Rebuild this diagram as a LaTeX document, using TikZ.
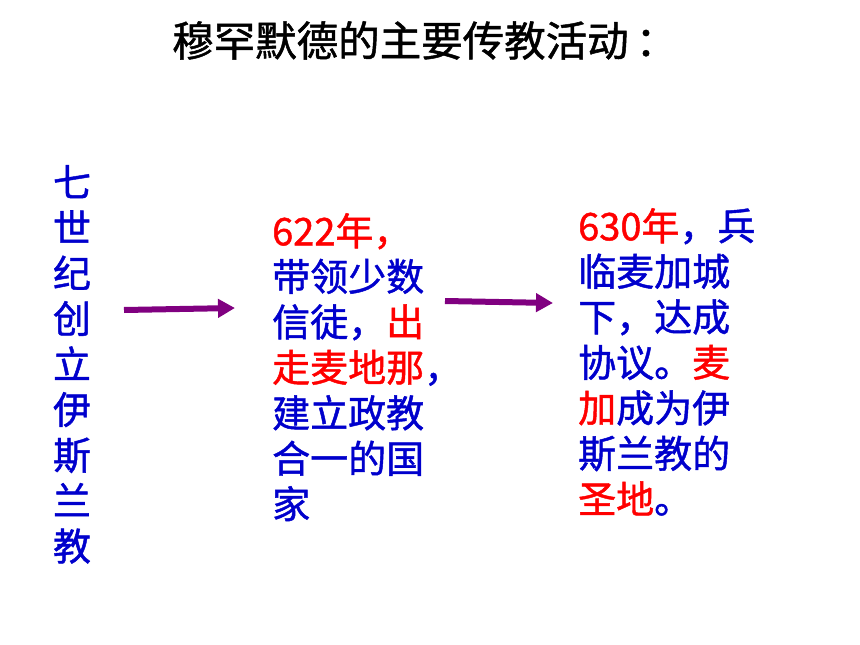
\documentclass[tikz,border=0pt]{standalone}
\usepackage{fontspec}
\setmainfont{Noto Sans CJK SC}[FakeBold=1.2]
\usetikzlibrary{arrows.meta}

\definecolor{cnblue}{RGB}{0,0,204}
\definecolor{cnred}{RGB}{255,0,0}
\definecolor{arrpurple}{RGB}{128,0,128}
\newcommand{\hl}[1]{\textcolor{cnred}{#1}}

\begin{document}
\begin{tikzpicture}[x=1pt,y=-1pt,
  body/.style={inner sep=0pt,align=left,text=cnblue,font=\fontsize{38}{45.5}\selectfont},
  arr/.style={draw=arrpurple,line width=6pt,-{Triangle[length=17pt,width=18pt]}}]
  \useasboundingbox (0,0) rectangle (860,645);

  \node [inner sep=0pt,anchor=north west,font=\fontsize{41.5}{41.5}\selectfont] (title) at (172,21) {穆罕默德的主要传教活动\hspace{7pt}：};

  \node [body,align=center,anchor=north] (left) at (72,165) {七\\世\\纪\\创\\立\\伊\\斯\\兰\\教};

  \node [body,anchor=north west] (mid) at (272,213)
    {\hl{622年，}\\带领少数\\信徒，\hl{出}\\\hl{走麦地那}，\\建立政教\\合一的国\\家};

  \node [body,anchor=north west] (right) at (578,208)
    {\hl{630年}，兵\\临麦加城\\下，达成\\协议。\hl{麦}\\\hl{加}成为伊\\斯兰教的\\\hl{圣地}。};

  \coordinate (a1s) at (124,310);
  \coordinate (a1e) at (235,308);
  \coordinate (a2s) at (445,301);
  \coordinate (a2e) at (553,303);
  \draw [arr] (a1s) -- (a1e);
  \draw [arr] (a2s) -- (a2e);
\end{tikzpicture}
\end{document}
